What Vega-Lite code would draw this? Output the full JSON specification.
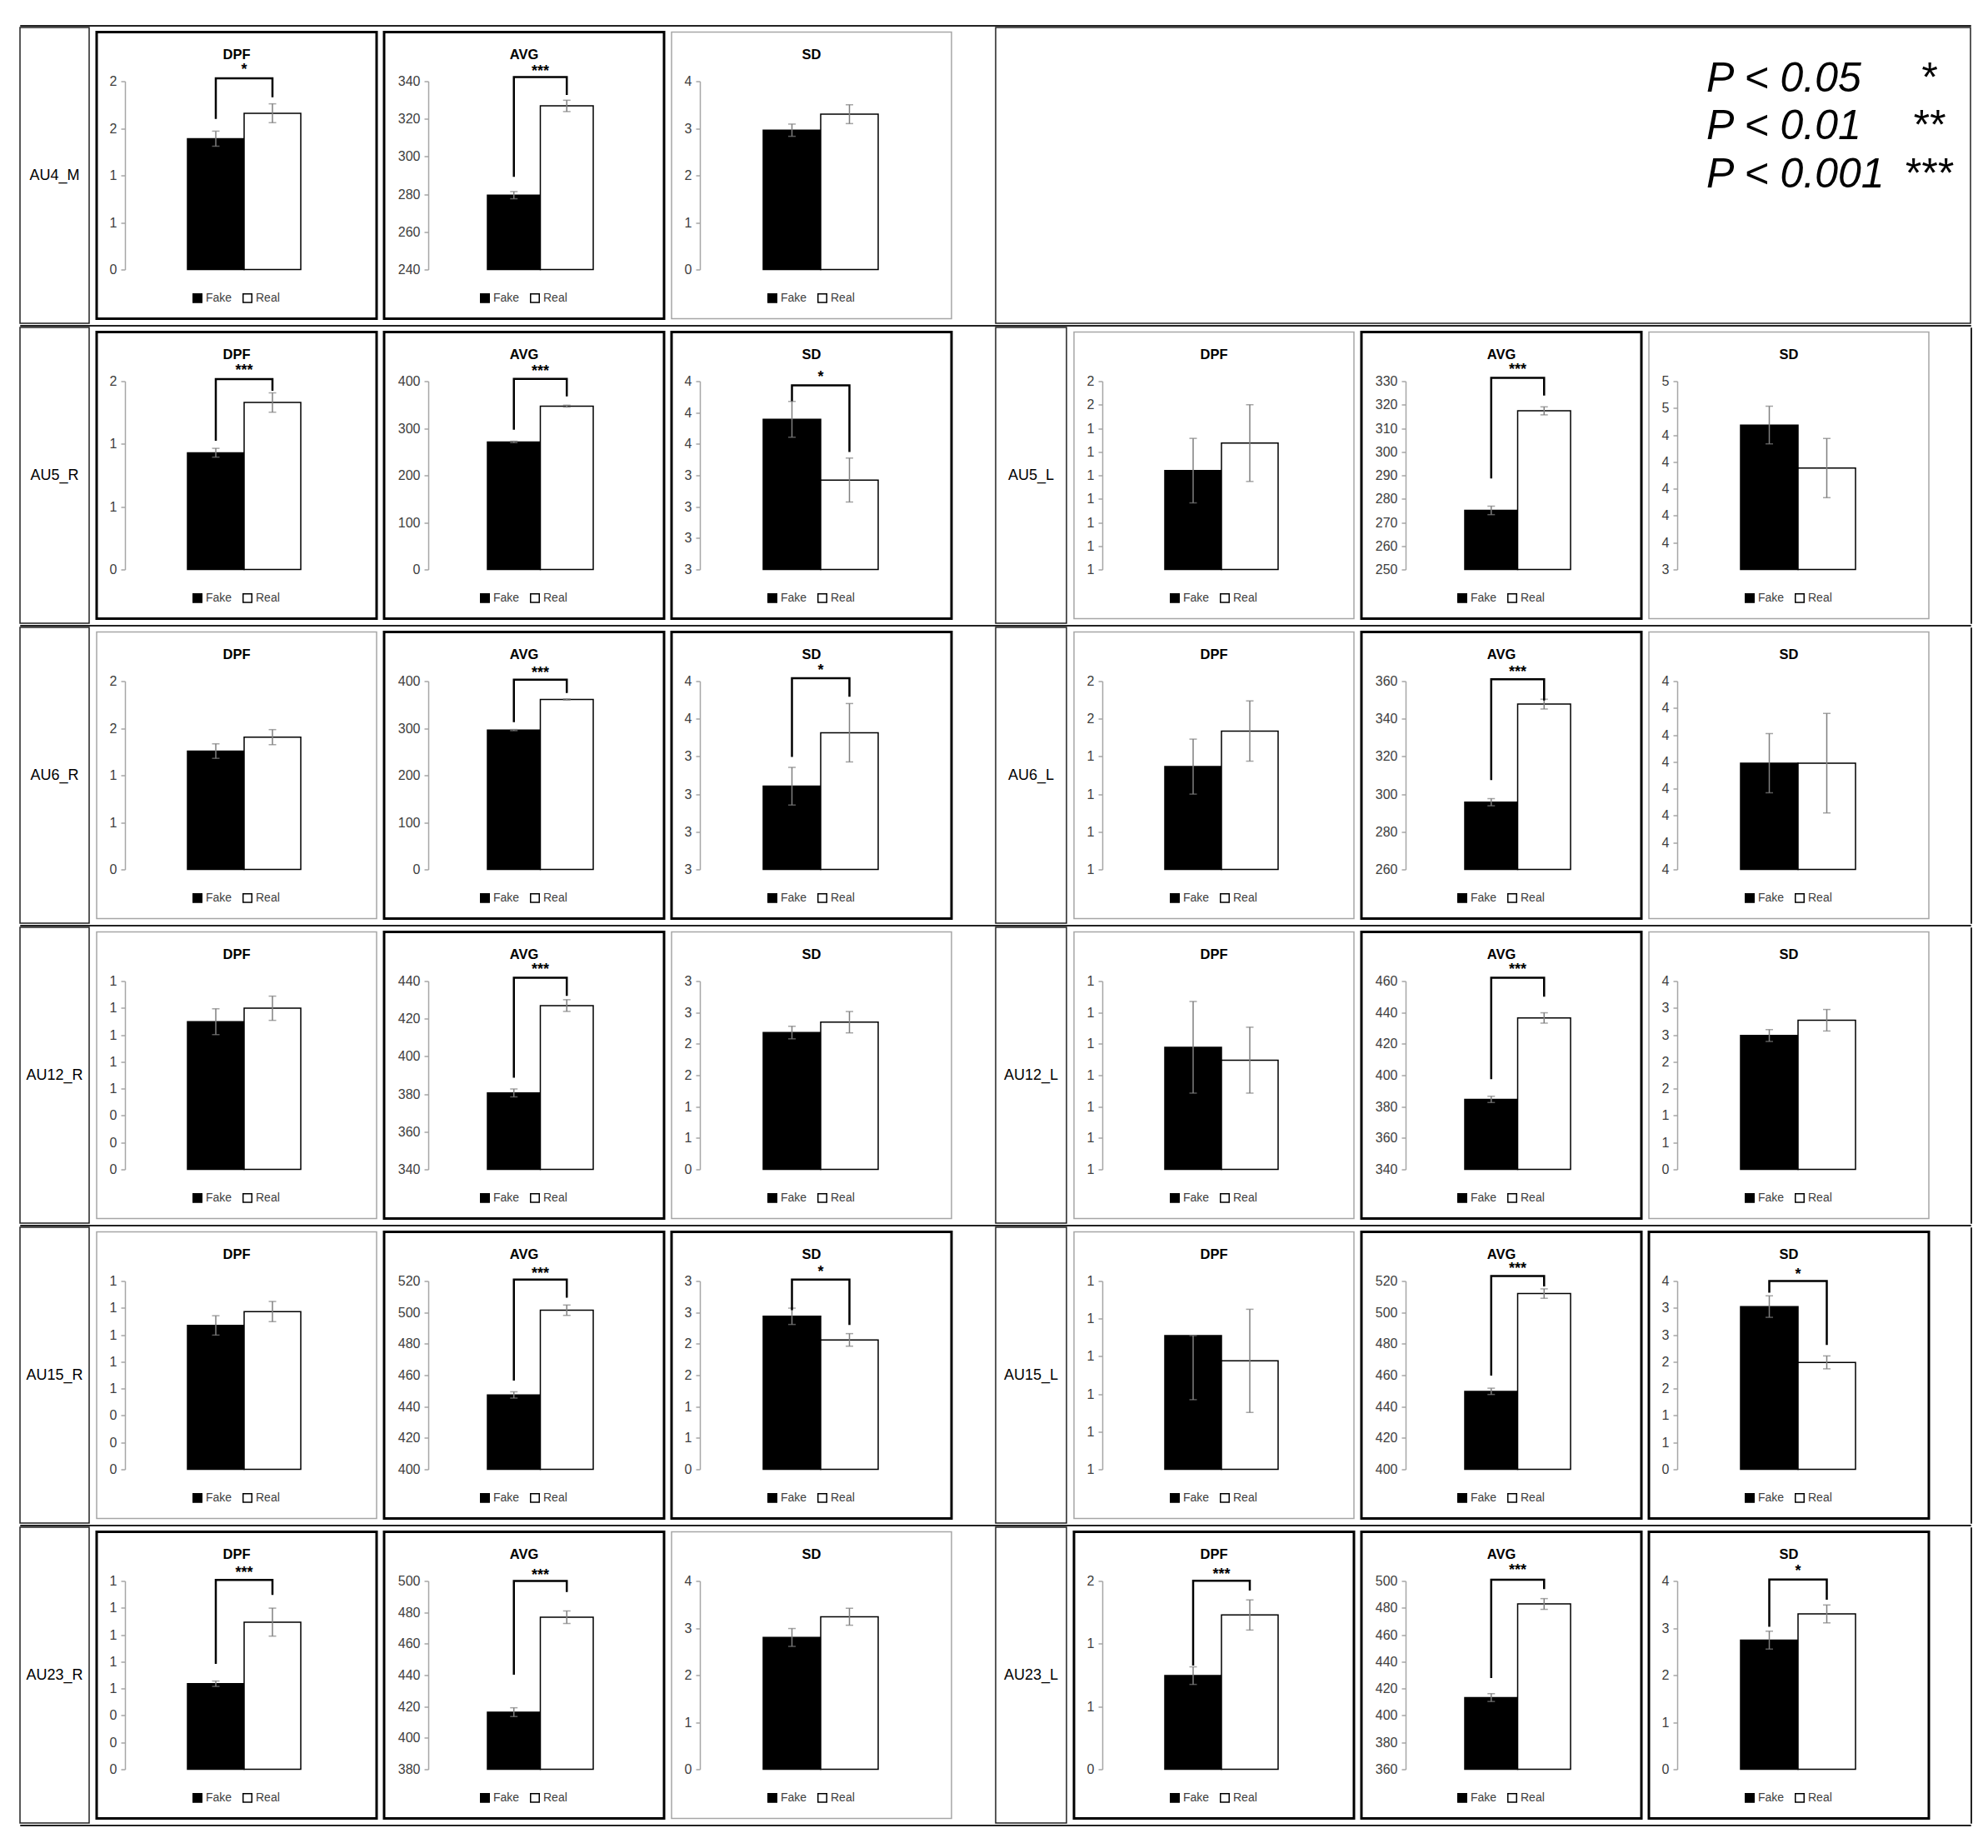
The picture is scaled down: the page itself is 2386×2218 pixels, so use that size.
{
"$schema": "https://vega.github.io/schema/vega-lite/v6.json",
"background": "white",
"padding": {"left": 23, "top": 29, "right": 0, "bottom": 0},
"config": {
 "font": "Liberation Sans",
 "view": {"stroke": null},
 "range": {"category": ["black", "white"]},
 "bar": {"stroke": "black", "strokeWidth": 1.5},
 "line": {"color": "black", "strokeWidth": 2.5},
 "tick": {"bandSize": 9},
 "errorbar": {"ticks": {"color": "#7f7f7f", "size": 9, "thickness": 1.5}, "rule": {"color": "#7f7f7f", "strokeWidth": 1.5}},
 "text": {"fontSize": 18, "color": "black"},
 "style": {"star": {"fontSize": 26, "fontWeight": "bold", "baseline": "middle", "dy": 3}},
 "title": {"fontSize": 16.5, "fontWeight": "bold", "color": "black", "offset": -36, "baseline": "bottom", "anchor": "middle"},
 "axisY": {"offset": -34, "format": ".0f", "grid": false, "domainColor": "#a6a6a6", "domainWidth": 1.5, "tickColor": "#a6a6a6", "tickWidth": 1.5, "tickSize": 5, "labelFontSize": 16, "labelColor": "#404040", "labelPadding": 5},
 "legend": {"orient": "none", "legendX": 114, "legendY": 312, "direction": "horizontal", "symbolType": "square", "symbolSize": 110, "symbolStrokeColor": "black", "symbolStrokeWidth": 1, "labelFontSize": 14, "labelColor": "#404040", "columnPadding": 9, "labelOffset": 3}
},
"spacing": 0,
"resolve": {"scale": {"fill": "independent"}, "legend": {"fill": "independent"}},
"vconcat": [
{"width":2341,"height":1,"view":{"stroke":"#222","strokeWidth":1},"data":{"values":[]},"mark":"text","encoding":{}},
{"hconcat":[
 {"width":83,"height":355,"view":{"stroke":"#222","strokeWidth":1.5},"data":{"values":[{"t":"AU4_M"}]},"mark":"text","encoding":{"text":{"field":"t","type":"nominal"}}},
 {"width":336,"height":344,"view":{"stroke":"black","strokeWidth":3},"title":"DPF","data":{"values":[{"g":"Fake","m":1.39,"e":0.08},{"g":"Real","m":1.66,"e":0.1}]},"encoding":{"x":{"field":"g","type":"nominal","scale":{"range":[109,245],"paddingInner":0,"paddingOuter":0},"axis":null},"y":{"field":"m","type":"quantitative","scale":{"domain":[0,2],"range":[285,59],"nice":false},"axis":{"values":[0,0.5,1,1.5,2],"title":null}}},"layer":[{"mark":"bar","encoding":{"y2":{"datum":0},"fill":{"field":"g","type":"nominal","legend":{"title":null}}}},{"mark":"errorbar","encoding":{"yError":{"field":"e"}}},{"data":{"values":[{"g":"Fake","m":1.6,"o":1},{"g":"Fake","m":2.03,"o":2},{"g":"Real","m":2.03,"o":3},{"g":"Real","m":1.83,"o":4}]},"mark":"line","encoding":{"order":{"field":"o","type":"quantitative"}}},{"data":{"values":[{"g":"Real","m":2.15,"t":"*"}]},"mark":{"type":"text","style":"star"},"encoding":{"x":{"field":"g","type":"nominal","bandPosition":0},"text":{"field":"t","type":"nominal"}}}]},
 {"width":336,"height":344,"view":{"stroke":"black","strokeWidth":3},"title":"AVG","data":{"values":[{"g":"Fake","m":279.5,"e":1.9},{"g":"Real","m":326.9,"e":3}]},"encoding":{"x":{"field":"g","type":"nominal","scale":{"range":[124,251],"paddingInner":0,"paddingOuter":0},"axis":null},"y":{"field":"m","type":"quantitative","scale":{"domain":[240,340],"range":[285,59],"nice":false},"axis":{"values":[240,260,280,300,320,340],"title":null,"offset":-53}}},"layer":[{"mark":"bar","encoding":{"y2":{"datum":240},"fill":{"field":"g","type":"nominal","legend":{"title":null}}}},{"mark":"errorbar","encoding":{"yError":{"field":"e"}}},{"data":{"values":[{"g":"Fake","m":289.2,"o":1},{"g":"Fake","m":342.2,"o":2},{"g":"Real","m":342.2,"o":3},{"g":"Real","m":332.7,"o":4}]},"mark":"line","encoding":{"order":{"field":"o","type":"quantitative"}}},{"data":{"values":[{"g":"Real","m":346.4,"t":"***"}]},"mark":{"type":"text","style":"star"},"encoding":{"x":{"field":"g","type":"nominal","bandPosition":0},"text":{"field":"t","type":"nominal"}}}]},
 {"width":336,"height":344,"view":{"stroke":"#a6a6a6","strokeWidth":1.5},"title":"SD","data":{"values":[{"g":"Fake","m":2.96,"e":0.13},{"g":"Real","m":3.3,"e":0.2}]},"encoding":{"x":{"field":"g","type":"nominal","scale":{"range":[110,248],"paddingInner":0,"paddingOuter":0},"axis":null},"y":{"field":"m","type":"quantitative","scale":{"domain":[0,4],"range":[285,59],"nice":false},"axis":{"values":[0,1,2,3,4],"title":null}}},"layer":[{"mark":"bar","encoding":{"y2":{"datum":0},"fill":{"field":"g","type":"nominal","legend":{"title":null}}}},{"mark":"errorbar","encoding":{"yError":{"field":"e"}}}]},
 {"width":35,"height":10,"data":{"values":[]},"mark":"text","encoding":{}},
 {"width":1170,"height":355,"view":{"stroke":"#222","strokeWidth":1.5},"data":{"values":[{"p":"P < 0.05","s":"*","k":1},{"p":"P < 0.01","s":"**","k":2},{"p":"P < 0.001","s":"***","k":3}]},"encoding":{"y":{"field":"k","type":"quantitative","scale":{"domain":[-0.339,5.835],"reverse":true,"nice":false,"zero":false},"axis":null}},"layer":[{"mark":{"type":"text","align":"left","baseline":"alphabetic","fontSize":50,"fontStyle":"italic"},"encoding":{"x":{"datum":"P","type":"nominal","scale":{"type":"point","domain":["P","S"],"range":[853,1119],"padding":0},"axis":null},"text":{"field":"p","type":"nominal"}}},{"mark":{"type":"text","align":"center","baseline":"alphabetic","fontSize":50,"fontStyle":"italic"},"encoding":{"x":{"datum":"S","type":"nominal"},"text":{"field":"s","type":"nominal"}}}]}
],"spacing":9,"bounds":"flush","center":true,"resolve":{"scale":{"fill":"independent"},"legend":{"fill":"independent"}}},
{"width":2341,"height":1,"view":{"stroke":"#222","strokeWidth":1},"data":{"values":[]},"mark":"text","encoding":{}},
{"hconcat":[
 {"width":83,"height":355,"view":{"stroke":"#222","strokeWidth":1.5},"data":{"values":[{"t":"AU5_R"}]},"mark":"text","encoding":{"text":{"field":"t","type":"nominal"}}},
 {"width":336,"height":344,"view":{"stroke":"black","strokeWidth":3},"title":"DPF","data":{"values":[{"g":"Fake","m":0.93,"e":0.035},{"g":"Real","m":1.33,"e":0.077}]},"encoding":{"x":{"field":"g","type":"nominal","scale":{"range":[109,245],"paddingInner":0,"paddingOuter":0},"axis":null},"y":{"field":"m","type":"quantitative","scale":{"domain":[0,1.5],"range":[285,59],"nice":false},"axis":{"values":[0,0.5,1,1.5],"title":null}}},"layer":[{"mark":"bar","encoding":{"y2":{"datum":0},"fill":{"field":"g","type":"nominal","legend":{"title":null}}}},{"mark":"errorbar","encoding":{"yError":{"field":"e"}}},{"data":{"values":[{"g":"Fake","m":1.026,"o":1},{"g":"Fake","m":1.516,"o":2},{"g":"Real","m":1.516,"o":3},{"g":"Real","m":1.423,"o":4}]},"mark":"line","encoding":{"order":{"field":"o","type":"quantitative"}}},{"data":{"values":[{"g":"Real","m":1.6,"t":"***"}]},"mark":{"type":"text","style":"star"},"encoding":{"x":{"field":"g","type":"nominal","bandPosition":0},"text":{"field":"t","type":"nominal"}}}]},
 {"width":336,"height":344,"view":{"stroke":"black","strokeWidth":3},"title":"AVG","data":{"values":[{"g":"Fake","m":271,"e":1.5},{"g":"Real","m":347,"e":2}]},"encoding":{"x":{"field":"g","type":"nominal","scale":{"range":[124,251],"paddingInner":0,"paddingOuter":0},"axis":null},"y":{"field":"m","type":"quantitative","scale":{"domain":[0,400],"range":[285,59],"nice":false},"axis":{"values":[0,100,200,300,400],"title":null,"offset":-53}}},"layer":[{"mark":"bar","encoding":{"y2":{"datum":0},"fill":{"field":"g","type":"nominal","legend":{"title":null}}}},{"mark":"errorbar","encoding":{"yError":{"field":"e"}}},{"data":{"values":[{"g":"Fake","m":296.8,"o":1},{"g":"Fake","m":404.7,"o":2},{"g":"Real","m":404.7,"o":3},{"g":"Real","m":367.6,"o":4}]},"mark":"line","encoding":{"order":{"field":"o","type":"quantitative"}}},{"data":{"values":[{"g":"Real","m":424.8,"t":"***"}]},"mark":{"type":"text","style":"star"},"encoding":{"x":{"field":"g","type":"nominal","bandPosition":0},"text":{"field":"t","type":"nominal"}}}]},
 {"width":336,"height":344,"view":{"stroke":"black","strokeWidth":3},"title":"SD","data":{"values":[{"g":"Fake","m":3.757,"e":0.114},{"g":"Real","m":3.37,"e":0.14}]},"encoding":{"x":{"field":"g","type":"nominal","scale":{"range":[110,248],"paddingInner":0,"paddingOuter":0},"axis":null},"y":{"field":"m","type":"quantitative","scale":{"domain":[2.8,4],"range":[285,59],"nice":false},"axis":{"values":[2.8,3,3.2,3.4,3.6,3.8,4],"title":null}}},"layer":[{"mark":"bar","encoding":{"y2":{"datum":2.8},"fill":{"field":"g","type":"nominal","legend":{"title":null}}}},{"mark":"errorbar","encoding":{"yError":{"field":"e"}}},{"data":{"values":[{"g":"Fake","m":3.873,"o":1},{"g":"Fake","m":3.973,"o":2},{"g":"Real","m":3.973,"o":3},{"g":"Real","m":3.549,"o":4}]},"mark":"line","encoding":{"order":{"field":"o","type":"quantitative"}}},{"data":{"values":[{"g":"Real","m":4.04,"t":"*"}]},"mark":{"type":"text","style":"star"},"encoding":{"x":{"field":"g","type":"nominal","bandPosition":0},"text":{"field":"t","type":"nominal"}}}]},
 {"width":35,"height":10,"data":{"values":[]},"mark":"text","encoding":{}},
 {"width":85,"height":355,"view":{"stroke":"#222","strokeWidth":1.5},"data":{"values":[{"t":"AU5_L"}]},"mark":"text","encoding":{"text":{"field":"t","type":"nominal"}}},
 {"width":336,"height":344,"view":{"stroke":"#a6a6a6","strokeWidth":1.5},"title":"DPF","data":{"values":[{"g":"Fake","m":1.22,"e":0.137},{"g":"Real","m":1.337,"e":0.163}]},"encoding":{"x":{"field":"g","type":"nominal","scale":{"range":[109,245],"paddingInner":0,"paddingOuter":0},"axis":null},"y":{"field":"m","type":"quantitative","scale":{"domain":[0.8,1.6],"range":[285,59],"nice":false},"axis":{"values":[0.8,0.9,1,1.1,1.2,1.3,1.4,1.5,1.6],"title":null}}},"layer":[{"mark":"bar","encoding":{"y2":{"datum":0.8},"fill":{"field":"g","type":"nominal","legend":{"title":null}}}},{"mark":"errorbar","encoding":{"yError":{"field":"e"}}}]},
 {"width":336,"height":344,"view":{"stroke":"black","strokeWidth":3},"title":"AVG","data":{"values":[{"g":"Fake","m":275.1,"e":1.8},{"g":"Real","m":317.4,"e":1.7}]},"encoding":{"x":{"field":"g","type":"nominal","scale":{"range":[124,251],"paddingInner":0,"paddingOuter":0},"axis":null},"y":{"field":"m","type":"quantitative","scale":{"domain":[250,330],"range":[285,59],"nice":false},"axis":{"values":[250,260,270,280,290,300,310,320,330],"title":null,"offset":-53}}},"layer":[{"mark":"bar","encoding":{"y2":{"datum":250},"fill":{"field":"g","type":"nominal","legend":{"title":null}}}},{"mark":"errorbar","encoding":{"yError":{"field":"e"}}},{"data":{"values":[{"g":"Fake","m":288.7,"o":1},{"g":"Fake","m":331.4,"o":2},{"g":"Real","m":331.4,"o":3},{"g":"Real","m":323.9,"o":4}]},"mark":"line","encoding":{"order":{"field":"o","type":"quantitative"}}},{"data":{"values":[{"g":"Real","m":335.7,"t":"***"}]},"mark":{"type":"text","style":"star"},"encoding":{"x":{"field":"g","type":"nominal","bandPosition":0},"text":{"field":"t","type":"nominal"}}}]},
 {"width":336,"height":344,"view":{"stroke":"#a6a6a6","strokeWidth":1.5},"title":"SD","data":{"values":[{"g":"Fake","m":4.474,"e":0.14},{"g":"Real","m":4.154,"e":0.22}]},"encoding":{"x":{"field":"g","type":"nominal","scale":{"range":[110,248],"paddingInner":0,"paddingOuter":0},"axis":null},"y":{"field":"m","type":"quantitative","scale":{"domain":[3.4,4.8],"range":[285,59],"nice":false},"axis":{"values":[3.4,3.6,3.8,4,4.2,4.4,4.6,4.8],"title":null}}},"layer":[{"mark":"bar","encoding":{"y2":{"datum":3.4},"fill":{"field":"g","type":"nominal","legend":{"title":null}}}},{"mark":"errorbar","encoding":{"yError":{"field":"e"}}}]},
 {"width":32,"height":10,"data":{"values":[]},"mark":"text","encoding":{}},
 {"width":1,"height":355,"view":{"stroke":"#222","strokeWidth":1},"data":{"values":[]},"mark":"text","encoding":{}}
],"spacing":9,"bounds":"flush","center":true,"resolve":{"scale":{"fill":"independent"},"legend":{"fill":"independent"}}},
{"width":2341,"height":1,"view":{"stroke":"#222","strokeWidth":1},"data":{"values":[]},"mark":"text","encoding":{}},
{"hconcat":[
 {"width":83,"height":355,"view":{"stroke":"#222","strokeWidth":1.5},"data":{"values":[{"t":"AU6_R"}]},"mark":"text","encoding":{"text":{"field":"t","type":"nominal"}}},
 {"width":336,"height":344,"view":{"stroke":"#a6a6a6","strokeWidth":1.5},"title":"DPF","data":{"values":[{"g":"Fake","m":1.257,"e":0.077},{"g":"Real","m":1.405,"e":0.08}]},"encoding":{"x":{"field":"g","type":"nominal","scale":{"range":[109,245],"paddingInner":0,"paddingOuter":0},"axis":null},"y":{"field":"m","type":"quantitative","scale":{"domain":[0,2],"range":[285,59],"nice":false},"axis":{"values":[0,0.5,1,1.5,2],"title":null}}},"layer":[{"mark":"bar","encoding":{"y2":{"datum":0},"fill":{"field":"g","type":"nominal","legend":{"title":null}}}},{"mark":"errorbar","encoding":{"yError":{"field":"e"}}}]},
 {"width":336,"height":344,"view":{"stroke":"black","strokeWidth":3},"title":"AVG","data":{"values":[{"g":"Fake","m":296,"e":1.2},{"g":"Real","m":361,"e":1.2}]},"encoding":{"x":{"field":"g","type":"nominal","scale":{"range":[124,251],"paddingInner":0,"paddingOuter":0},"axis":null},"y":{"field":"m","type":"quantitative","scale":{"domain":[0,400],"range":[285,59],"nice":false},"axis":{"values":[0,100,200,300,400],"title":null,"offset":-53}}},"layer":[{"mark":"bar","encoding":{"y2":{"datum":0},"fill":{"field":"g","type":"nominal","legend":{"title":null}}}},{"mark":"errorbar","encoding":{"yError":{"field":"e"}}},{"data":{"values":[{"g":"Fake","m":312.7,"o":1},{"g":"Fake","m":403,"o":2},{"g":"Real","m":403,"o":3},{"g":"Real","m":374.6,"o":4}]},"mark":"line","encoding":{"order":{"field":"o","type":"quantitative"}}},{"data":{"values":[{"g":"Real","m":423,"t":"***"}]},"mark":{"type":"text","style":"star"},"encoding":{"x":{"field":"g","type":"nominal","bandPosition":0},"text":{"field":"t","type":"nominal"}}}]},
 {"width":336,"height":344,"view":{"stroke":"black","strokeWidth":3},"title":"SD","data":{"values":[{"g":"Fake","m":3.242,"e":0.1},{"g":"Real","m":3.526,"e":0.155}]},"encoding":{"x":{"field":"g","type":"nominal","scale":{"range":[110,248],"paddingInner":0,"paddingOuter":0},"axis":null},"y":{"field":"m","type":"quantitative","scale":{"domain":[2.8,3.8],"range":[285,59],"nice":false},"axis":{"values":[2.8,3,3.2,3.4,3.6,3.8],"title":null}}},"layer":[{"mark":"bar","encoding":{"y2":{"datum":2.8},"fill":{"field":"g","type":"nominal","legend":{"title":null}}}},{"mark":"errorbar","encoding":{"yError":{"field":"e"}}},{"data":{"values":[{"g":"Fake","m":3.397,"o":1},{"g":"Fake","m":3.815,"o":2},{"g":"Real","m":3.815,"o":3},{"g":"Real","m":3.717,"o":4}]},"mark":"line","encoding":{"order":{"field":"o","type":"quantitative"}}},{"data":{"values":[{"g":"Real","m":3.869,"t":"*"}]},"mark":{"type":"text","style":"star"},"encoding":{"x":{"field":"g","type":"nominal","bandPosition":0},"text":{"field":"t","type":"nominal"}}}]},
 {"width":35,"height":10,"data":{"values":[]},"mark":"text","encoding":{}},
 {"width":85,"height":355,"view":{"stroke":"#222","strokeWidth":1.5},"data":{"values":[{"t":"AU6_L"}]},"mark":"text","encoding":{"text":{"field":"t","type":"nominal"}}},
 {"width":336,"height":344,"view":{"stroke":"#a6a6a6","strokeWidth":1.5},"title":"DPF","data":{"values":[{"g":"Fake","m":1.346,"e":0.146},{"g":"Real","m":1.535,"e":0.16}]},"encoding":{"x":{"field":"g","type":"nominal","scale":{"range":[109,245],"paddingInner":0,"paddingOuter":0},"axis":null},"y":{"field":"m","type":"quantitative","scale":{"domain":[0.8,1.8],"range":[285,59],"nice":false},"axis":{"values":[0.8,1,1.2,1.4,1.6,1.8],"title":null}}},"layer":[{"mark":"bar","encoding":{"y2":{"datum":0.8},"fill":{"field":"g","type":"nominal","legend":{"title":null}}}},{"mark":"errorbar","encoding":{"yError":{"field":"e"}}}]},
 {"width":336,"height":344,"view":{"stroke":"black","strokeWidth":3},"title":"AVG","data":{"values":[{"g":"Fake","m":295.7,"e":1.9},{"g":"Real","m":347.8,"e":2.6}]},"encoding":{"x":{"field":"g","type":"nominal","scale":{"range":[124,251],"paddingInner":0,"paddingOuter":0},"axis":null},"y":{"field":"m","type":"quantitative","scale":{"domain":[260,360],"range":[285,59],"nice":false},"axis":{"values":[260,280,300,320,340,360],"title":null,"offset":-53}}},"layer":[{"mark":"bar","encoding":{"y2":{"datum":260},"fill":{"field":"g","type":"nominal","legend":{"title":null}}}},{"mark":"errorbar","encoding":{"yError":{"field":"e"}}},{"data":{"values":[{"g":"Fake","m":307.5,"o":1},{"g":"Fake","m":361,"o":2},{"g":"Real","m":361,"o":3},{"g":"Real","m":349.7,"o":4}]},"mark":"line","encoding":{"order":{"field":"o","type":"quantitative"}}},{"data":{"values":[{"g":"Real","m":365.9,"t":"***"}]},"mark":{"type":"text","style":"star"},"encoding":{"x":{"field":"g","type":"nominal","bandPosition":0},"text":{"field":"t","type":"nominal"}}}]},
 {"width":336,"height":344,"view":{"stroke":"#a6a6a6","strokeWidth":1.5},"title":"SD","data":{"values":[{"g":"Fake","m":4.095,"e":0.11},{"g":"Real","m":4.095,"e":0.185}]},"encoding":{"x":{"field":"g","type":"nominal","scale":{"range":[110,248],"paddingInner":0,"paddingOuter":0},"axis":null},"y":{"field":"m","type":"quantitative","scale":{"domain":[3.7,4.4],"range":[285,59],"nice":false},"axis":{"values":[3.7,3.8,3.9,4,4.1,4.2,4.3,4.4],"title":null}}},"layer":[{"mark":"bar","encoding":{"y2":{"datum":3.7},"fill":{"field":"g","type":"nominal","legend":{"title":null}}}},{"mark":"errorbar","encoding":{"yError":{"field":"e"}}}]},
 {"width":32,"height":10,"data":{"values":[]},"mark":"text","encoding":{}},
 {"width":1,"height":355,"view":{"stroke":"#222","strokeWidth":1},"data":{"values":[]},"mark":"text","encoding":{}}
],"spacing":9,"bounds":"flush","center":true,"resolve":{"scale":{"fill":"independent"},"legend":{"fill":"independent"}}},
{"width":2341,"height":1,"view":{"stroke":"#222","strokeWidth":1},"data":{"values":[]},"mark":"text","encoding":{}},
{"hconcat":[
 {"width":83,"height":355,"view":{"stroke":"#222","strokeWidth":1.5},"data":{"values":[{"t":"AU12_R"}]},"mark":"text","encoding":{"text":{"field":"t","type":"nominal"}}},
 {"width":336,"height":344,"view":{"stroke":"#a6a6a6","strokeWidth":1.5},"title":"DPF","data":{"values":[{"g":"Fake","m":1.098,"e":0.096},{"g":"Real","m":1.198,"e":0.09}]},"encoding":{"x":{"field":"g","type":"nominal","scale":{"range":[109,245],"paddingInner":0,"paddingOuter":0},"axis":null},"y":{"field":"m","type":"quantitative","scale":{"domain":[0,1.4],"range":[285,59],"nice":false},"axis":{"values":[0,0.2,0.4,0.6,0.8,1,1.2,1.4],"title":null}}},"layer":[{"mark":"bar","encoding":{"y2":{"datum":0},"fill":{"field":"g","type":"nominal","legend":{"title":null}}}},{"mark":"errorbar","encoding":{"yError":{"field":"e"}}}]},
 {"width":336,"height":344,"view":{"stroke":"black","strokeWidth":3},"title":"AVG","data":{"values":[{"g":"Fake","m":380.6,"e":2.1},{"g":"Real","m":427,"e":3.1}]},"encoding":{"x":{"field":"g","type":"nominal","scale":{"range":[124,251],"paddingInner":0,"paddingOuter":0},"axis":null},"y":{"field":"m","type":"quantitative","scale":{"domain":[340,440],"range":[285,59],"nice":false},"axis":{"values":[340,360,380,400,420,440],"title":null,"offset":-53}}},"layer":[{"mark":"bar","encoding":{"y2":{"datum":340},"fill":{"field":"g","type":"nominal","legend":{"title":null}}}},{"mark":"errorbar","encoding":{"yError":{"field":"e"}}},{"data":{"values":[{"g":"Fake","m":388.7,"o":1},{"g":"Fake","m":441.8,"o":2},{"g":"Real","m":441.8,"o":3},{"g":"Real","m":432.2,"o":4}]},"mark":"line","encoding":{"order":{"field":"o","type":"quantitative"}}},{"data":{"values":[{"g":"Real","m":447.2,"t":"***"}]},"mark":{"type":"text","style":"star"},"encoding":{"x":{"field":"g","type":"nominal","bandPosition":0},"text":{"field":"t","type":"nominal"}}}]},
 {"width":336,"height":344,"view":{"stroke":"#a6a6a6","strokeWidth":1.5},"title":"SD","data":{"values":[{"g":"Fake","m":2.18,"e":0.1},{"g":"Real","m":2.345,"e":0.17}]},"encoding":{"x":{"field":"g","type":"nominal","scale":{"range":[110,248],"paddingInner":0,"paddingOuter":0},"axis":null},"y":{"field":"m","type":"quantitative","scale":{"domain":[0,3],"range":[285,59],"nice":false},"axis":{"values":[0,0.5,1,1.5,2,2.5,3],"title":null}}},"layer":[{"mark":"bar","encoding":{"y2":{"datum":0},"fill":{"field":"g","type":"nominal","legend":{"title":null}}}},{"mark":"errorbar","encoding":{"yError":{"field":"e"}}}]},
 {"width":35,"height":10,"data":{"values":[]},"mark":"text","encoding":{}},
 {"width":85,"height":355,"view":{"stroke":"#222","strokeWidth":1.5},"data":{"values":[{"t":"AU12_L"}]},"mark":"text","encoding":{"text":{"field":"t","type":"nominal"}}},
 {"width":336,"height":344,"view":{"stroke":"#a6a6a6","strokeWidth":1.5},"title":"DPF","data":{"values":[{"g":"Fake","m":1.189,"e":0.146},{"g":"Real","m":1.148,"e":0.105}]},"encoding":{"x":{"field":"g","type":"nominal","scale":{"range":[109,245],"paddingInner":0,"paddingOuter":0},"axis":null},"y":{"field":"m","type":"quantitative","scale":{"domain":[0.8,1.4],"range":[285,59],"nice":false},"axis":{"values":[0.8,0.9,1,1.1,1.2,1.3,1.4],"title":null}}},"layer":[{"mark":"bar","encoding":{"y2":{"datum":0.8},"fill":{"field":"g","type":"nominal","legend":{"title":null}}}},{"mark":"errorbar","encoding":{"yError":{"field":"e"}}}]},
 {"width":336,"height":344,"view":{"stroke":"black","strokeWidth":3},"title":"AVG","data":{"values":[{"g":"Fake","m":384.6,"e":2},{"g":"Real","m":436.5,"e":3.3}]},"encoding":{"x":{"field":"g","type":"nominal","scale":{"range":[124,251],"paddingInner":0,"paddingOuter":0},"axis":null},"y":{"field":"m","type":"quantitative","scale":{"domain":[340,460],"range":[285,59],"nice":false},"axis":{"values":[340,360,380,400,420,440,460],"title":null,"offset":-53}}},"layer":[{"mark":"bar","encoding":{"y2":{"datum":340},"fill":{"field":"g","type":"nominal","legend":{"title":null}}}},{"mark":"errorbar","encoding":{"yError":{"field":"e"}}},{"data":{"values":[{"g":"Fake","m":397.5,"o":1},{"g":"Fake","m":462.1,"o":2},{"g":"Real","m":462.1,"o":3},{"g":"Real","m":450.1,"o":4}]},"mark":"line","encoding":{"order":{"field":"o","type":"quantitative"}}},{"data":{"values":[{"g":"Real","m":468.7,"t":"***"}]},"mark":{"type":"text","style":"star"},"encoding":{"x":{"field":"g","type":"nominal","bandPosition":0},"text":{"field":"t","type":"nominal"}}}]},
 {"width":336,"height":344,"view":{"stroke":"#a6a6a6","strokeWidth":1.5},"title":"SD","data":{"values":[{"g":"Fake","m":2.488,"e":0.11},{"g":"Real","m":2.772,"e":0.2}]},"encoding":{"x":{"field":"g","type":"nominal","scale":{"range":[110,248],"paddingInner":0,"paddingOuter":0},"axis":null},"y":{"field":"m","type":"quantitative","scale":{"domain":[0,3.5],"range":[285,59],"nice":false},"axis":{"values":[0,0.5,1,1.5,2,2.5,3,3.5],"title":null}}},"layer":[{"mark":"bar","encoding":{"y2":{"datum":0},"fill":{"field":"g","type":"nominal","legend":{"title":null}}}},{"mark":"errorbar","encoding":{"yError":{"field":"e"}}}]},
 {"width":32,"height":10,"data":{"values":[]},"mark":"text","encoding":{}},
 {"width":1,"height":355,"view":{"stroke":"#222","strokeWidth":1},"data":{"values":[]},"mark":"text","encoding":{}}
],"spacing":9,"bounds":"flush","center":true,"resolve":{"scale":{"fill":"independent"},"legend":{"fill":"independent"}}},
{"width":2341,"height":1,"view":{"stroke":"#222","strokeWidth":1},"data":{"values":[]},"mark":"text","encoding":{}},
{"hconcat":[
 {"width":83,"height":355,"view":{"stroke":"#222","strokeWidth":1.5},"data":{"values":[{"t":"AU15_R"}]},"mark":"text","encoding":{"text":{"field":"t","type":"nominal"}}},
 {"width":336,"height":344,"view":{"stroke":"#a6a6a6","strokeWidth":1.5},"title":"DPF","data":{"values":[{"g":"Fake","m":1.07,"e":0.072},{"g":"Real","m":1.173,"e":0.075}]},"encoding":{"x":{"field":"g","type":"nominal","scale":{"range":[109,245],"paddingInner":0,"paddingOuter":0},"axis":null},"y":{"field":"m","type":"quantitative","scale":{"domain":[0,1.4],"range":[285,59],"nice":false},"axis":{"values":[0,0.2,0.4,0.6,0.8,1,1.2,1.4],"title":null}}},"layer":[{"mark":"bar","encoding":{"y2":{"datum":0},"fill":{"field":"g","type":"nominal","legend":{"title":null}}}},{"mark":"errorbar","encoding":{"yError":{"field":"e"}}}]},
 {"width":336,"height":344,"view":{"stroke":"black","strokeWidth":3},"title":"AVG","data":{"values":[{"g":"Fake","m":447.4,"e":2},{"g":"Real","m":501.4,"e":3.3}]},"encoding":{"x":{"field":"g","type":"nominal","scale":{"range":[124,251],"paddingInner":0,"paddingOuter":0},"axis":null},"y":{"field":"m","type":"quantitative","scale":{"domain":[400,520],"range":[285,59],"nice":false},"axis":{"values":[400,420,440,460,480,500,520],"title":null,"offset":-53}}},"layer":[{"mark":"bar","encoding":{"y2":{"datum":400},"fill":{"field":"g","type":"nominal","legend":{"title":null}}}},{"mark":"errorbar","encoding":{"yError":{"field":"e"}}},{"data":{"values":[{"g":"Fake","m":456.6,"o":1},{"g":"Fake","m":520.9,"o":2},{"g":"Real","m":520.9,"o":3},{"g":"Real","m":509.4,"o":4}]},"mark":"line","encoding":{"order":{"field":"o","type":"quantitative"}}},{"data":{"values":[{"g":"Real","m":526.2,"t":"***"}]},"mark":{"type":"text","style":"star"},"encoding":{"x":{"field":"g","type":"nominal","bandPosition":0},"text":{"field":"t","type":"nominal"}}}]},
 {"width":336,"height":344,"view":{"stroke":"black","strokeWidth":3},"title":"SD","data":{"values":[{"g":"Fake","m":2.438,"e":0.13},{"g":"Real","m":2.062,"e":0.1}]},"encoding":{"x":{"field":"g","type":"nominal","scale":{"range":[110,248],"paddingInner":0,"paddingOuter":0},"axis":null},"y":{"field":"m","type":"quantitative","scale":{"domain":[0,3],"range":[285,59],"nice":false},"axis":{"values":[0,0.5,1,1.5,2,2.5,3],"title":null}}},"layer":[{"mark":"bar","encoding":{"y2":{"datum":0},"fill":{"field":"g","type":"nominal","legend":{"title":null}}}},{"mark":"errorbar","encoding":{"yError":{"field":"e"}}},{"data":{"values":[{"g":"Fake","m":2.535,"o":1},{"g":"Fake","m":3.022,"o":2},{"g":"Real","m":3.022,"o":3},{"g":"Real","m":2.3,"o":4}]},"mark":"line","encoding":{"order":{"field":"o","type":"quantitative"}}},{"data":{"values":[{"g":"Real","m":3.177,"t":"*"}]},"mark":{"type":"text","style":"star"},"encoding":{"x":{"field":"g","type":"nominal","bandPosition":0},"text":{"field":"t","type":"nominal"}}}]},
 {"width":35,"height":10,"data":{"values":[]},"mark":"text","encoding":{}},
 {"width":85,"height":355,"view":{"stroke":"#222","strokeWidth":1.5},"data":{"values":[{"t":"AU15_L"}]},"mark":"text","encoding":{"text":{"field":"t","type":"nominal"}}},
 {"width":336,"height":344,"view":{"stroke":"#a6a6a6","strokeWidth":1.5},"title":"DPF","data":{"values":[{"g":"Fake","m":1.255,"e":0,"e2":-0.17},{"g":"Real","m":1.188,"e":0.137,"e2":-0.137}]},"encoding":{"x":{"field":"g","type":"nominal","scale":{"range":[109,245],"paddingInner":0,"paddingOuter":0},"axis":null},"y":{"field":"m","type":"quantitative","scale":{"domain":[0.9,1.4],"range":[285,59],"nice":false},"axis":{"values":[0.9,1,1.1,1.2,1.3,1.4],"title":null}}},"layer":[{"mark":"bar","encoding":{"y2":{"datum":0.9},"fill":{"field":"g","type":"nominal","legend":{"title":null}}}},{"mark":"errorbar","encoding":{"yError":{"field":"e"},"yError2":{"field":"e2"}}}]},
 {"width":336,"height":344,"view":{"stroke":"black","strokeWidth":3},"title":"AVG","data":{"values":[{"g":"Fake","m":449.7,"e":2},{"g":"Real","m":512,"e":3}]},"encoding":{"x":{"field":"g","type":"nominal","scale":{"range":[124,251],"paddingInner":0,"paddingOuter":0},"axis":null},"y":{"field":"m","type":"quantitative","scale":{"domain":[400,520],"range":[285,59],"nice":false},"axis":{"values":[400,420,440,460,480,500,520],"title":null,"offset":-53}}},"layer":[{"mark":"bar","encoding":{"y2":{"datum":400},"fill":{"field":"g","type":"nominal","legend":{"title":null}}}},{"mark":"errorbar","encoding":{"yError":{"field":"e"}}},{"data":{"values":[{"g":"Fake","m":459.8,"o":1},{"g":"Fake","m":523.2,"o":2},{"g":"Real","m":523.2,"o":3},{"g":"Real","m":516.5,"o":4}]},"mark":"line","encoding":{"order":{"field":"o","type":"quantitative"}}},{"data":{"values":[{"g":"Real","m":529.2,"t":"***"}]},"mark":{"type":"text","style":"star"},"encoding":{"x":{"field":"g","type":"nominal","bandPosition":0},"text":{"field":"t","type":"nominal"}}}]},
 {"width":336,"height":344,"view":{"stroke":"black","strokeWidth":3},"title":"SD","data":{"values":[{"g":"Fake","m":3.025,"e":0.2},{"g":"Real","m":1.988,"e":0.12}]},"encoding":{"x":{"field":"g","type":"nominal","scale":{"range":[110,248],"paddingInner":0,"paddingOuter":0},"axis":null},"y":{"field":"m","type":"quantitative","scale":{"domain":[0,3.5],"range":[285,59],"nice":false},"axis":{"values":[0,0.5,1,1.5,2,2.5,3,3.5],"title":null}}},"layer":[{"mark":"bar","encoding":{"y2":{"datum":0},"fill":{"field":"g","type":"nominal","legend":{"title":null}}}},{"mark":"errorbar","encoding":{"yError":{"field":"e"}}},{"data":{"values":[{"g":"Fake","m":3.283,"o":1},{"g":"Fake","m":3.5,"o":2},{"g":"Real","m":3.5,"o":3},{"g":"Real","m":2.313,"o":4}]},"mark":"line","encoding":{"order":{"field":"o","type":"quantitative"}}},{"data":{"values":[{"g":"Real","m":3.655,"t":"*"}]},"mark":{"type":"text","style":"star"},"encoding":{"x":{"field":"g","type":"nominal","bandPosition":0},"text":{"field":"t","type":"nominal"}}}]},
 {"width":32,"height":10,"data":{"values":[]},"mark":"text","encoding":{}},
 {"width":1,"height":355,"view":{"stroke":"#222","strokeWidth":1},"data":{"values":[]},"mark":"text","encoding":{}}
],"spacing":9,"bounds":"flush","center":true,"resolve":{"scale":{"fill":"independent"},"legend":{"fill":"independent"}}},
{"width":2341,"height":1,"view":{"stroke":"#222","strokeWidth":1},"data":{"values":[]},"mark":"text","encoding":{}},
{"hconcat":[
 {"width":83,"height":355,"view":{"stroke":"#222","strokeWidth":1.5},"data":{"values":[{"t":"AU23_R"}]},"mark":"text","encoding":{"text":{"field":"t","type":"nominal"}}},
 {"width":336,"height":344,"view":{"stroke":"black","strokeWidth":3},"title":"DPF","data":{"values":[{"g":"Fake","m":0.636,"e":0.02},{"g":"Real","m":1.094,"e":0.104}]},"encoding":{"x":{"field":"g","type":"nominal","scale":{"range":[109,245],"paddingInner":0,"paddingOuter":0},"axis":null},"y":{"field":"m","type":"quantitative","scale":{"domain":[0,1.4],"range":[285,59],"nice":false},"axis":{"values":[0,0.2,0.4,0.6,0.8,1,1.2,1.4],"title":null}}},"layer":[{"mark":"bar","encoding":{"y2":{"datum":0},"fill":{"field":"g","type":"nominal","legend":{"title":null}}}},{"mark":"errorbar","encoding":{"yError":{"field":"e"}}},{"data":{"values":[{"g":"Fake","m":0.783,"o":1},{"g":"Fake","m":1.408,"o":2},{"g":"Real","m":1.408,"o":3},{"g":"Real","m":1.296,"o":4}]},"mark":"line","encoding":{"order":{"field":"o","type":"quantitative"}}},{"data":{"values":[{"g":"Real","m":1.476,"t":"***"}]},"mark":{"type":"text","style":"star"},"encoding":{"x":{"field":"g","type":"nominal","bandPosition":0},"text":{"field":"t","type":"nominal"}}}]},
 {"width":336,"height":344,"view":{"stroke":"black","strokeWidth":3},"title":"AVG","data":{"values":[{"g":"Fake","m":416.4,"e":2.8},{"g":"Real","m":476.9,"e":4}]},"encoding":{"x":{"field":"g","type":"nominal","scale":{"range":[124,251],"paddingInner":0,"paddingOuter":0},"axis":null},"y":{"field":"m","type":"quantitative","scale":{"domain":[380,500],"range":[285,59],"nice":false},"axis":{"values":[380,400,420,440,460,480,500],"title":null,"offset":-53}}},"layer":[{"mark":"bar","encoding":{"y2":{"datum":380},"fill":{"field":"g","type":"nominal","legend":{"title":null}}}},{"mark":"errorbar","encoding":{"yError":{"field":"e"}}},{"data":{"values":[{"g":"Fake","m":440.2,"o":1},{"g":"Fake","m":500,"o":2},{"g":"Real","m":500,"o":3},{"g":"Real","m":492.9,"o":4}]},"mark":"line","encoding":{"order":{"field":"o","type":"quantitative"}}},{"data":{"values":[{"g":"Real","m":505.3,"t":"***"}]},"mark":{"type":"text","style":"star"},"encoding":{"x":{"field":"g","type":"nominal","bandPosition":0},"text":{"field":"t","type":"nominal"}}}]},
 {"width":336,"height":344,"view":{"stroke":"#a6a6a6","strokeWidth":1.5},"title":"SD","data":{"values":[{"g":"Fake","m":2.8,"e":0.19},{"g":"Real","m":3.24,"e":0.18}]},"encoding":{"x":{"field":"g","type":"nominal","scale":{"range":[110,248],"paddingInner":0,"paddingOuter":0},"axis":null},"y":{"field":"m","type":"quantitative","scale":{"domain":[0,4],"range":[285,59],"nice":false},"axis":{"values":[0,1,2,3,4],"title":null}}},"layer":[{"mark":"bar","encoding":{"y2":{"datum":0},"fill":{"field":"g","type":"nominal","legend":{"title":null}}}},{"mark":"errorbar","encoding":{"yError":{"field":"e"}}}]},
 {"width":35,"height":10,"data":{"values":[]},"mark":"text","encoding":{}},
 {"width":85,"height":355,"view":{"stroke":"#222","strokeWidth":1.5},"data":{"values":[{"t":"AU23_L"}]},"mark":"text","encoding":{"text":{"field":"t","type":"nominal"}}},
 {"width":336,"height":344,"view":{"stroke":"black","strokeWidth":3},"title":"DPF","data":{"values":[{"g":"Fake","m":0.746,"e":0.07},{"g":"Real","m":1.229,"e":0.12}]},"encoding":{"x":{"field":"g","type":"nominal","scale":{"range":[109,245],"paddingInner":0,"paddingOuter":0},"axis":null},"y":{"field":"m","type":"quantitative","scale":{"domain":[0,1.5],"range":[285,59],"nice":false},"axis":{"values":[0,0.5,1,1.5],"title":null}}},"layer":[{"mark":"bar","encoding":{"y2":{"datum":0},"fill":{"field":"g","type":"nominal","legend":{"title":null}}}},{"mark":"errorbar","encoding":{"yError":{"field":"e"}}},{"data":{"values":[{"g":"Fake","m":0.827,"o":1},{"g":"Fake","m":1.502,"o":2},{"g":"Real","m":1.502,"o":3},{"g":"Real","m":1.423,"o":4}]},"mark":"line","encoding":{"order":{"field":"o","type":"quantitative"}}},{"data":{"values":[{"g":"Real","m":1.573,"t":"***"}]},"mark":{"type":"text","style":"star"},"encoding":{"x":{"field":"g","type":"nominal","bandPosition":0},"text":{"field":"t","type":"nominal"}}}]},
 {"width":336,"height":344,"view":{"stroke":"black","strokeWidth":3},"title":"AVG","data":{"values":[{"g":"Fake","m":413.3,"e":2.9},{"g":"Real","m":482.9,"e":4}]},"encoding":{"x":{"field":"g","type":"nominal","scale":{"range":[124,251],"paddingInner":0,"paddingOuter":0},"axis":null},"y":{"field":"m","type":"quantitative","scale":{"domain":[360,500],"range":[285,59],"nice":false},"axis":{"values":[360,380,400,420,440,460,480,500],"title":null,"offset":-53}}},"layer":[{"mark":"bar","encoding":{"y2":{"datum":360},"fill":{"field":"g","type":"nominal","legend":{"title":null}}}},{"mark":"errorbar","encoding":{"yError":{"field":"e"}}},{"data":{"values":[{"g":"Fake","m":427.9,"o":1},{"g":"Fake","m":501,"o":2},{"g":"Real","m":501,"o":3},{"g":"Real","m":494,"o":4}]},"mark":"line","encoding":{"order":{"field":"o","type":"quantitative"}}},{"data":{"values":[{"g":"Real","m":509.3,"t":"***"}]},"mark":{"type":"text","style":"star"},"encoding":{"x":{"field":"g","type":"nominal","bandPosition":0},"text":{"field":"t","type":"nominal"}}}]},
 {"width":336,"height":344,"view":{"stroke":"black","strokeWidth":3},"title":"SD","data":{"values":[{"g":"Fake","m":2.743,"e":0.19},{"g":"Real","m":3.3,"e":0.19}]},"encoding":{"x":{"field":"g","type":"nominal","scale":{"range":[110,248],"paddingInner":0,"paddingOuter":0},"axis":null},"y":{"field":"m","type":"quantitative","scale":{"domain":[0,4],"range":[285,59],"nice":false},"axis":{"values":[0,1,2,3,4],"title":null}}},"layer":[{"mark":"bar","encoding":{"y2":{"datum":0},"fill":{"field":"g","type":"nominal","legend":{"title":null}}}},{"mark":"errorbar","encoding":{"yError":{"field":"e"}}},{"data":{"values":[{"g":"Fake","m":3.027,"o":1},{"g":"Fake","m":4.03,"o":2},{"g":"Real","m":4.03,"o":3},{"g":"Real","m":3.6,"o":4}]},"mark":"line","encoding":{"order":{"field":"o","type":"quantitative"}}},{"data":{"values":[{"g":"Real","m":4.25,"t":"*"}]},"mark":{"type":"text","style":"star"},"encoding":{"x":{"field":"g","type":"nominal","bandPosition":0},"text":{"field":"t","type":"nominal"}}}]},
 {"width":32,"height":10,"data":{"values":[]},"mark":"text","encoding":{}},
 {"width":1,"height":355,"view":{"stroke":"#222","strokeWidth":1},"data":{"values":[]},"mark":"text","encoding":{}}
],"spacing":9,"bounds":"flush","center":true,"resolve":{"scale":{"fill":"independent"},"legend":{"fill":"independent"}}},
{"width":2341,"height":1,"view":{"stroke":"#222","strokeWidth":1},"data":{"values":[]},"mark":"text","encoding":{}}
]
}
